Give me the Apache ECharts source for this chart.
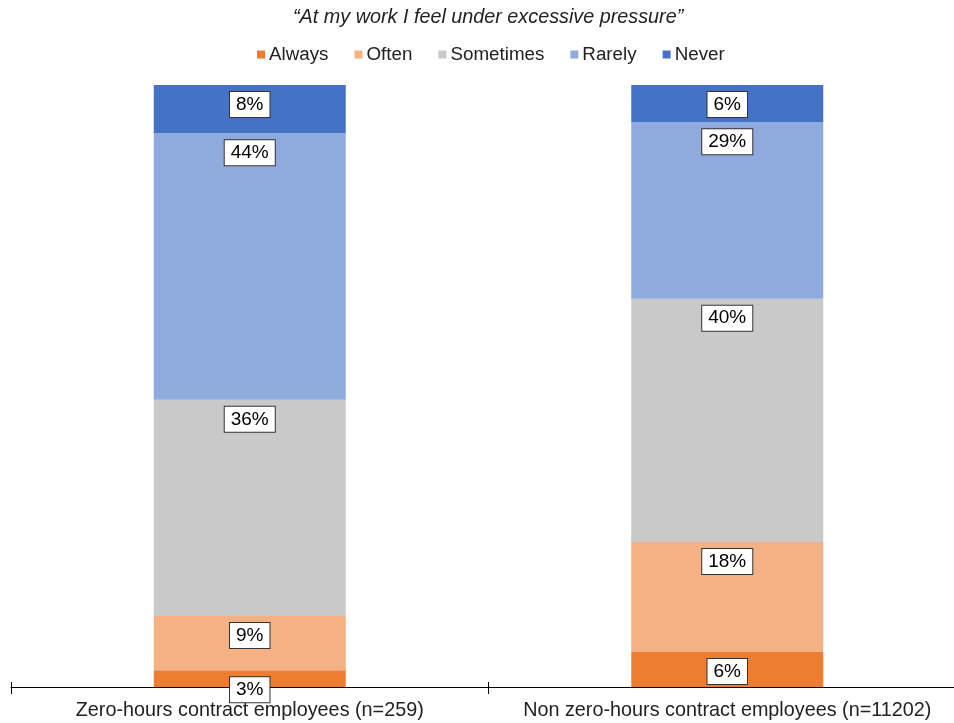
<!DOCTYPE html>
<html>
<head>
<meta charset="utf-8">
<script src="https://cdn.jsdelivr.net/npm/echarts@6/dist/echarts.min.js"></script>
<style>html,body{margin:0;padding:0;background:#fff;overflow:hidden;width:954px;height:723px}#c{width:966px;height:723px}</style>
</head>
<body>
<div id="c"></div>
<script>
var categories = ['Zero-hours contract employees (n=259)', 'Non zero-hours contract employees (n=11202)'];
var seriesNames = ['Always', 'Often', 'Sometimes', 'Rarely', 'Never'];
var always = [2.8, 5.8];
var often = [9.0, 18.3];
var sometimes = [35.9, 40.4];
var rarely = [44.3, 29.3];
var never = [8.0, 6.2];
var labelsAlways = ['3%', '6%'];
var labelsOften = ['9%', '18%'];
var labelsSometimes = ['36%', '40%'];
var labelsRarely = ['44%', '29%'];
var labelsNever = ['8%', '6%'];
var colors = ['#ED7D31', '#F4B183', '#C9C9C9', '#8FAADC', '#4472C4'];
var titleText = '\u201CAt my work I feel under excessive pressure\u201D';

var values = [always, often, sometimes, rarely, never];
var labels = [labelsAlways, labelsOften, labelsSometimes, labelsRarely, labelsNever];

var chart = echarts.init(document.getElementById('c'));
var font = 'Liberation Sans, Arial, sans-serif';
var series = seriesNames.map(function (name, i) {
  return {
    name: name,
    type: 'bar',
    stack: 'total',
    barWidth: 192,
    data: values[i],
    itemStyle: { color: colors[i] },
    label: {
      show: true,
      position: 'insideTop',
      distance: 7,
      formatter: function (p) { return labels[i][p.dataIndex]; },
      fontFamily: font,
      fontSize: 19,
      color: '#000',
      backgroundColor: '#fff',
      borderColor: '#333',
      borderWidth: 1,
      padding: [3, 6, 3, 6]
    }
  };
});

chart.setOption({
  animation: false,
  color: colors,
  title: {
    text: titleText,
    left: 288,
    top: 2,
    textStyle: { fontFamily: font, fontSize: 19.8, fontStyle: 'italic', fontWeight: 'normal', color: '#222' }
  },
  legend: {
    data: seriesNames,
    top: 40,
    left: 252,
    icon: 'rect',
    itemWidth: 8,
    itemHeight: 8,
    itemGap: 26,
    textStyle: { fontFamily: font, fontSize: 18.8, color: '#222', padding: [0, 0, 0, -1] }
  },
  grid: { left: 11, right: 0, top: 85, bottom: 36, containLabel: false },
  xAxis: [{
    type: 'category',
    data: categories,
    axisLine: { lineStyle: { color: '#000', width: 1 } },
    axisTick: { show: true, length: 7, lineStyle: { color: '#000' } },
    axisLabel: { interval: 0, fontFamily: font, fontSize: 19.8, color: '#222', margin: 14 }
  }, {
    type: 'category',
    data: categories,
    position: 'bottom',
    axisLine: { show: false },
    axisTick: { show: true, inside: true, length: 5, lineStyle: { color: '#000' } },
    axisLabel: { show: false }
  }],
  yAxis: {
    type: 'value',
    min: 0,
    max: 100,
    show: false
  },
  series: series
});
</script>
</body>
</html>
